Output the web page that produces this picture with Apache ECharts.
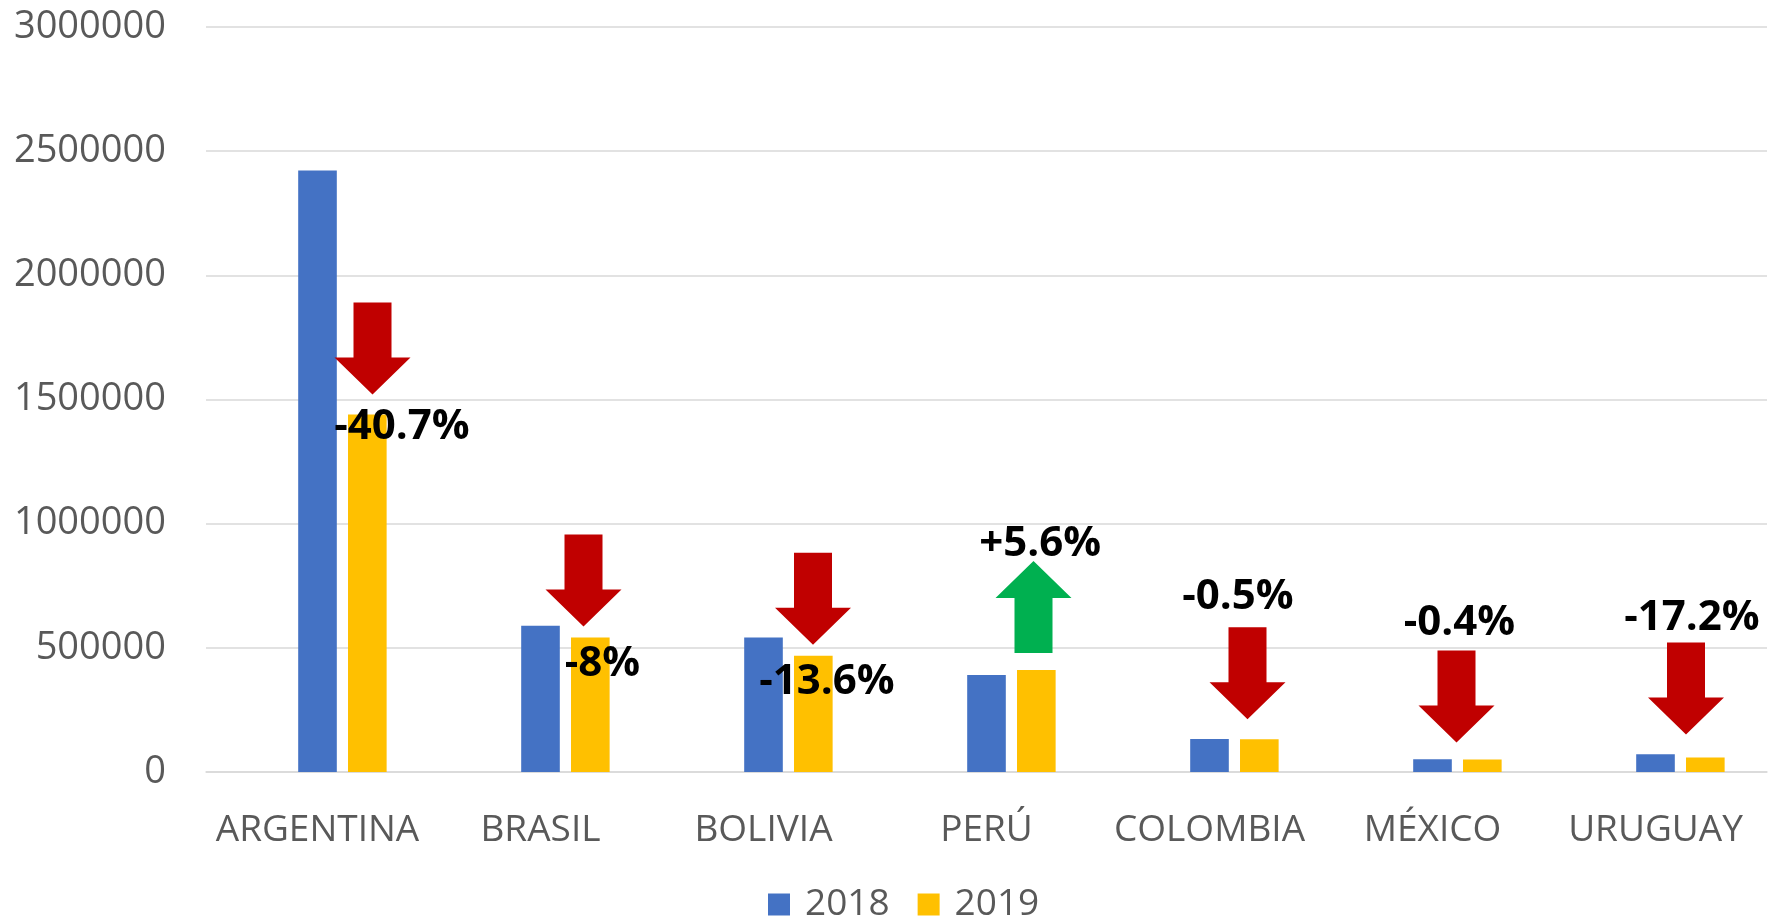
<!DOCTYPE html>
<html>
<head>
<meta charset="utf-8">
<script src="https://cdn.jsdelivr.net/npm/echarts@6/dist/echarts.min.js"></script>
<style>
    html, body { margin: 0; padding: 0; background: #fff; }
    #chart { width: 1773px; height: 920px; }
</style>
</head>
<body>
<div id="chart"></div>
<script>

/* ===========================
   Data
=========================== */

const countries = ["ARGENTINA", "BRASIL", "BOLIVIA", "PERÚ", "COLOMBIA", "MÉXICO", "URUGUAY"];

const values2018 = [2422000, 589000, 542000, 391000, 133000, 51000, 71000];
const values2019 = [1440000, 542000, 468000, 411000, 132000, 50800, 58800];

// variación 2018 -> 2019 (%)
const changes = [-40.7, -8, -13.6, 5.6, -0.5, -0.4, -17.2];

const yTicks = [0, 500000, 1000000, 1500000, 2000000, 2500000, 3000000];

/* ===========================
   Arrow layout (px)
=========================== */

// dx: arrow centre from category centre, lift: gap above 2019 bar,
// lx / ly: label centre from arrow centre / arrow top
const arrowLayout = [
    { dx: 55, lift: 20, lx: 29.5, ly: 125 },
    { dx: 43, lift: 11, lx: 19, ly: 130 },
    { dx: 49.5, lift: 11, lx: 14, ly: 129 },
    { dx: 47, lift: 17, lx: 6.6, ly: -16.7 },
    { dx: 38, lift: 20, lx: -9.6, ly: -30.6 },
    { dx: 24, lift: 17, lx: 3, ly: -27.6 },
    { dx: 30.5, lift: 23, lx: 6, ly: -24.7 }
];

const FONT = "'Open Sans', 'Noto Sans', sans-serif";

/* ===========================
   Arrow render
=========================== */

function renderArrow(params, api) {

    const i = params.dataIndex;
    const change = api.value(2);
    const L = arrowLayout[i];

    const barTop = api.coord([i, api.value(1)]);
    const cx = barTop[0] + L.dx;
    const top = barTop[1] - L.lift - 92;

    const sw = 19;   // half shaft
    const hw = 38;   // half head
    let points;
    let fill;

    if (change < 0) {
        points = [
            [cx - sw, top], [cx + sw, top], [cx + sw, top + 55],
            [cx + hw, top + 55], [cx, top + 92], [cx - hw, top + 55],
            [cx - sw, top + 55]
        ];
        fill = "#C00000";
    } else {
        points = [
            [cx, top], [cx + hw, top + 37], [cx + sw, top + 37],
            [cx + sw, top + 92], [cx - sw, top + 92], [cx - sw, top + 37],
            [cx - hw, top + 37]
        ];
        fill = "#00B050";
    }

    const label = (change > 0 ? "+" : "") + change + "%";

    return {
        type: "group",
        children: [
            {
                type: "polygon",
                shape: { points: points },
                style: { fill: fill }
            },
            {
                type: "text",
                z2: 10,
                style: {
                    text: label,
                    x: cx + L.lx,
                    y: top + L.ly,
                    align: "center",
                    verticalAlign: "middle",
                    fill: "#000",
                    font: "bold 42px " + FONT
                }
            }
        ]
    };

}

/* ===========================
   Chart
=========================== */

const chart = echarts.init(document.getElementById("chart"));

chart.setOption({

    animation: false,

    grid: {
        left: 206,
        right: 6,
        top: 27,
        bottom: 148,
        outerBoundsMode: "none"
    },

    legend: {
        data: ["2018", "2019"],
        left: 763,
        top: 881,
        icon: "rect",
        itemWidth: 22,
        itemHeight: 22,
        itemGap: 28,
        textStyle: {
            color: "#595959",
            fontSize: 37,
            fontFamily: FONT,
            padding: [0, 0, 0, 10]
        }
    },

    xAxis: {
        type: "category",
        data: countries,
        axisTick: { show: false },
        axisLine: {
            lineStyle: { color: "#d9d9d9", width: 1.5 }
        },
        axisLabel: {
            color: "#595959",
            fontSize: 37,
            fontFamily: FONT,
            margin: 40,
            interval: 0
        }
    },

    yAxis: {
        type: "value",
        min: yTicks[0],
        max: yTicks[yTicks.length - 1],
        interval: yTicks[1] - yTicks[0],
        axisLine: { show: false },
        axisTick: { show: false },
        axisLabel: {
            color: "#595959",
            fontSize: 38,
            fontFamily: FONT,
            margin: 40,
            formatter: v => String(v)
        },
        splitLine: {
            lineStyle: { color: "#d9d9d9", width: 1.5 }
        }
    },

    series: [
        {
            // empty slot kept by the original chart, pushes 2019 to the right
            name: "hueco",
            type: "bar",
            data: countries.map(() => null),
            barGap: "29%",
            barCategoryGap: "38%"
        },
        {
            name: "2018",
            type: "bar",
            data: values2018,
            barGap: "29%",
            barCategoryGap: "38%",
            itemStyle: { color: "#4472C4" }
        },
        {
            name: "2019",
            type: "bar",
            data: values2019,
            barGap: "29%",
            barCategoryGap: "38%",
            itemStyle: { color: "#FFC000" }
        },
        {
            name: "variación",
            type: "custom",
            renderItem: renderArrow,
            clip: false,
            z: 5,
            data: countries.map((c, i) => [i, values2019[i], changes[i]])
        }
    ]

});

</script>
</body>
</html>
